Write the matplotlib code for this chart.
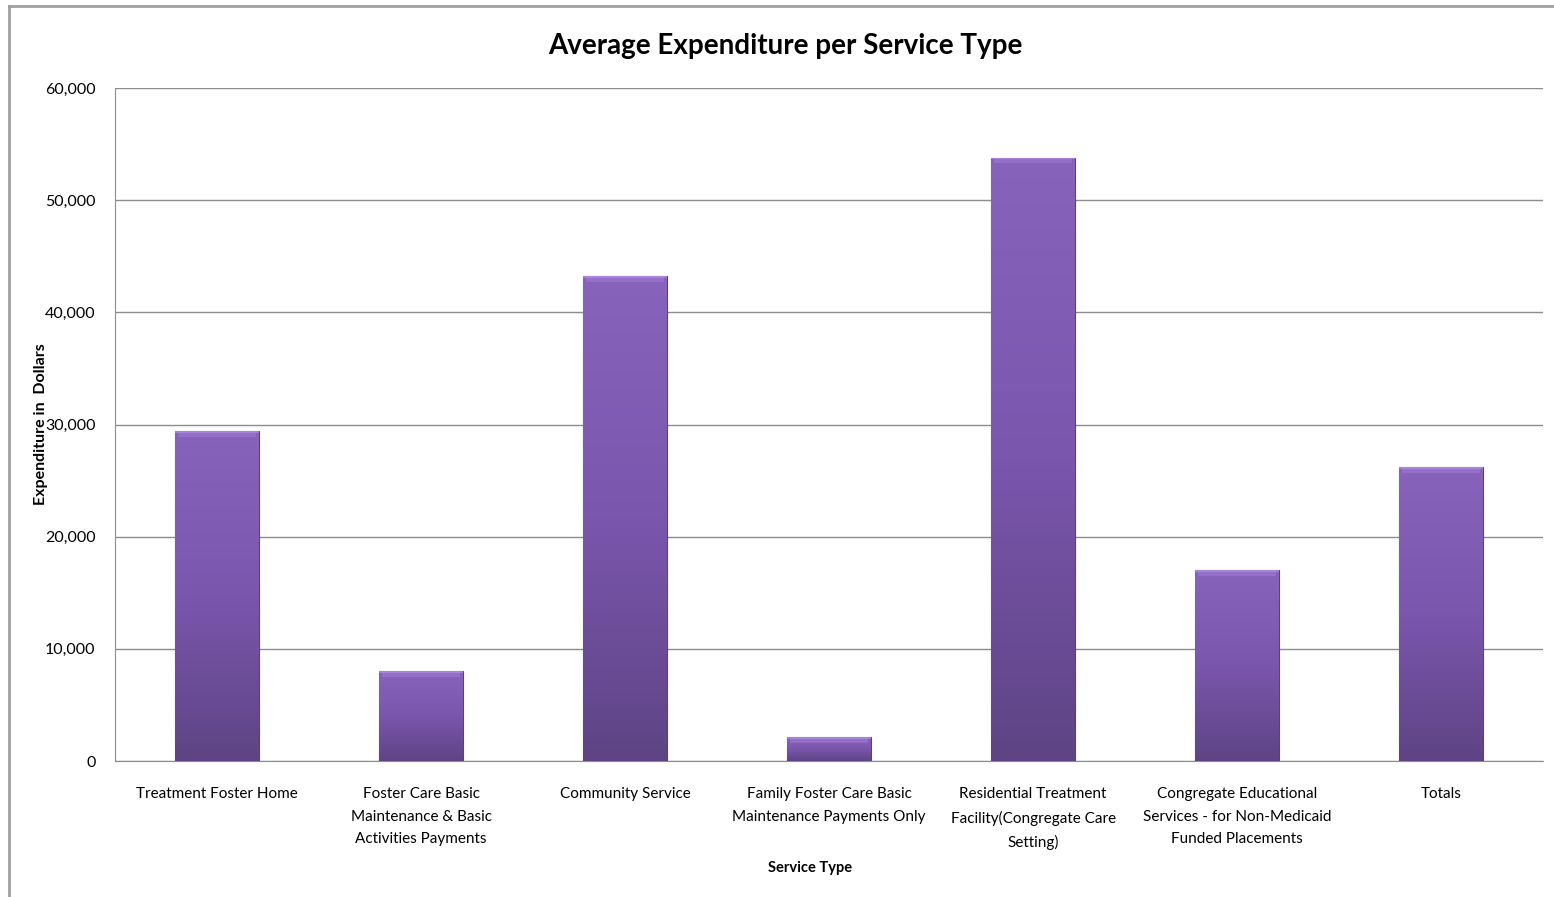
import matplotlib
matplotlib.use("Agg")
import matplotlib.pyplot as plt
import numpy as np
from matplotlib.colors import LinearSegmentedColormap
from matplotlib.lines import Line2D
from matplotlib.ticker import FuncFormatter

categories = [
    "Treatment Foster Home",
    "Foster Care Basic\nMaintenance & Basic\nActivities Payments",
    "Community Service",
    "Family Foster Care Basic\nMaintenance Payments Only",
    "Residential Treatment\nFacility(Congregate Care\nSetting)",
    "Congregate Educational\nServices - for Non-Medicaid\nFunded Placements",
    "Totals",
]
values = [29400, 8000, 43200, 2150, 53800, 17000, 26200]
yticks = [0, 10000, 20000, 30000, 40000, 50000, 60000]

plt.rcParams['font.family'] = ['Lato', 'DejaVu Sans']

fig = plt.figure(figsize=(15.54, 8.97), dpi=100)
ax = fig.add_axes([0.074, 0.1516, 0.919, 0.7503])

x = np.arange(len(categories))
bars = ax.bar(x, values, width=0.41, color="#7450a5", edgecolor="#5a3f80",
              linewidth=0.8, zorder=3)

cmap = LinearSegmentedColormap.from_list("purp", ["#5e4484", "#7a56ad", "#8763bb"])
grad = np.linspace(0, 1, 256).reshape(-1, 1)
for b in bars:
    bx, by = b.get_x(), b.get_y()
    w, h = b.get_width(), b.get_height()
    im = ax.imshow(grad, cmap=cmap, aspect="auto", origin="lower",
                   extent=[bx, bx + w, by, by + h], zorder=3.5)
    im.set_clip_path(b)
    bev = min(h * 0.35, 500)
    ax.fill_between([bx + w * 0.03, bx + w * 0.97], by + h - bev, by + h,
                    color="#a783da", alpha=0.45, zorder=3.6, linewidth=0)
    ax.fill_between([bx, bx + w], by + h - bev * 0.3, by + h,
                    color="#b893ea", alpha=0.6, zorder=3.7, linewidth=0)

ax.set_xlim(-0.5, len(categories) - 0.5)
ax.set_ylim(0, 60000)
ax.set_yticks(yticks)
ax.yaxis.set_major_formatter(FuncFormatter(lambda v, p: f"{int(v):,}"))
ax.grid(axis="y", color="#8c8c8c", linewidth=1.0, zorder=0)
ax.set_axisbelow(True)
for s in ["top", "right"]:
    ax.spines[s].set_visible(False)
ax.spines["left"].set_color("#8c8c8c")
ax.spines["bottom"].set_color("#8c8c8c")
ax.tick_params(axis="both", length=0, labelsize=11, colors="black")
ax.tick_params(axis="y", pad=14, labelsize=11.5)
ax.tick_params(axis="x", pad=19)
ax.set_xticks(x)
ax.set_xticklabels(categories, linespacing=1.75)

ax.set_ylabel("Expenditure in  Dollars", fontsize=11.5, fontweight="bold")
ax.yaxis.set_label_coords(-0.047, 0.5)
ax.set_xlabel("Service Type", fontsize=10.5, fontweight="bold")
ax.xaxis.set_label_coords(0.487, -0.149)
fig.text(0.5055, 0.949, "Average Expenditure per Service Type", ha="center",
         va="center", fontsize=20, fontweight="bold")

fig.add_artist(Line2D([0.0055, 0.0055], [0.0, 0.9935], transform=fig.transFigure,
                      color="#a0a0a0", linewidth=2))
fig.add_artist(Line2D([0.0055, 1.0], [0.9935, 0.9935], transform=fig.transFigure,
                      color="#a0a0a0", linewidth=2))

fig.savefig("out.png", dpi=100)
